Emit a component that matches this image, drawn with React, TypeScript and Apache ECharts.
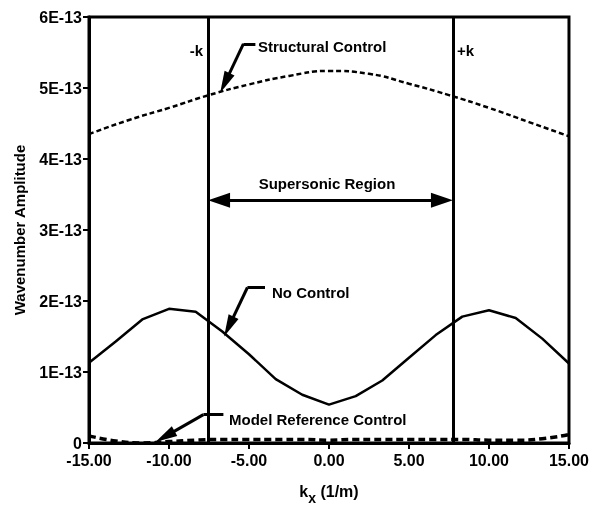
import React, { useEffect, useRef } from "react";
import * as echarts from "echarts";

const E = 1e-13;
const yTicks = [0, 1, 2, 3, 4, 5, 6];
const xTickLabels = ["-15.00", "-10.00", "-5.00", "0.00", "5.00", "10.00", "15.00"];

const kStructural = [-15, -12.5, -10, -7.5, -5, -2.5, 0, 2.5, 5, 7.5, 10, 12.5, 15];
const structuralControl = [4.35, 4.55, 4.72, 4.9, 5.05, 5.17, 5.24, 5.2, 5.06, 4.9, 4.72, 4.52, 4.32];

const kGrid = [-15, -13.33, -11.67, -10, -8.33, -6.67, -5, -3.33, -1.67, 0, 1.67, 3.33, 5, 6.67, 8.33, 10, 11.67, 13.33, 15];
const noControl = [1.13, 1.43, 1.74, 1.89, 1.85, 1.57, 1.25, 0.9, 0.68, 0.54, 0.66, 0.88, 1.2, 1.52, 1.78, 1.87, 1.76, 1.47, 1.12];
const modelReference = [0.1, 0.03, 0.0, 0.02, 0.04, 0.05, 0.05, 0.05, 0.05, 0.04, 0.05, 0.05, 0.05, 0.05, 0.05, 0.04, 0.04, 0.06, 0.12];

const kMinus = -7.56;
const kPlus = 7.75;
const supersonicY = 3.42;
const supersonicHeadHalf = 0.69; // half arrow-head length, in k units

// leader arrows: [start(text side), elbow, arrow-head centre] in data coords (k, amplitude in E-13)
const leaders = [
  [[-4.6, 5.62], [-5.35, 5.62], [-6.51, 5.07]],
  [[-4.0, 2.19], [-5.1, 2.19], [-6.26, 1.64]],
  [[-6.6, 0.4], [-7.85, 0.4], [-10.25, 0.09]],
];

const FONT = "'Liberation Sans', Arial, Helvetica, sans-serif";

export default function App() {
  const ref = useRef<HTMLDivElement>(null);
  useEffect(() => {
    if (!ref.current) return;
    const chart = echarts.init(ref.current, undefined, { renderer: "svg" });
    const pair = (xs: number[], ys: number[]) => xs.map((x, i) => [x, ys[i] * E]);
    const leaderLines: any[] = [];
    leaders.forEach((l) => {
      leaderLines.push([
        { coord: [l[0][0], l[0][1] * E], symbol: "none" },
        { coord: [l[1][0], l[1][1] * E], symbol: "none" },
      ]);
      leaderLines.push([
        { coord: [l[1][0], l[1][1] * E], symbol: "none" },
        { coord: [l[2][0], l[2][1] * E], symbol: "triangle", symbolSize: [11, 22] },
      ]);
    });
    const textStyle = { fontFamily: FONT, fontWeight: "bold", fontSize: 15, fill: "#000" };
    chart.setOption({
      animation: false,
      grid: { left: 89, right: 23, top: 17, bottom: 63, show: true, borderColor: "#000", borderWidth: 3, backgroundColor: "transparent" },
      xAxis: {
        type: "value",
        min: -15,
        max: 15,
        interval: 5,
        axisLine: { show: true, onZero: false, lineStyle: { color: "#000", width: 3 } },
        axisTick: { show: true, length: 6, lineStyle: { color: "#000", width: 2 } },
        splitLine: { show: false },
        axisLabel: {
          color: "#000",
          fontFamily: FONT,
          fontWeight: "bold",
          fontSize: 16,
          margin: 9,
          formatter: (v: number) => xTickLabels[Math.round((v + 15) / 5)] ?? "",
        },
        name: "{k|k}{x|x}{u| (1/m)}",
        nameLocation: "middle",
        nameGap: 34,
        nameTextStyle: {
          rich: {
            k: { fontFamily: FONT, fontWeight: "bold", fontSize: 16, color: "#000" },
            x: { fontFamily: FONT, fontWeight: "bold", fontSize: 14, color: "#000", padding: [14, 0, 0, 0] },
            u: { fontFamily: FONT, fontWeight: "bold", fontSize: 16, color: "#000" },
          },
        },
      },
      yAxis: {
        type: "value",
        min: 0,
        max: 6 * E,
        interval: E,
        axisLine: { show: true, onZero: false, lineStyle: { color: "#000", width: 3 } },
        axisTick: { show: true, length: 6, lineStyle: { color: "#000", width: 2 } },
        splitLine: { show: false },
        axisLabel: {
          color: "#000",
          fontFamily: FONT,
          fontWeight: "bold",
          fontSize: 16,
          margin: 7,
          formatter: (v: number) => {
            const n = Math.round(v / E);
            return yTicks.includes(n) ? (n === 0 ? "0" : `${n}E-13`) : "";
          },
        },
        name: "Wavenumber Amplitude",
        nameLocation: "middle",
        nameGap: 62,
        nameTextStyle: { color: "#000", fontFamily: FONT, fontWeight: "bold", fontSize: 15 },
      },
      series: [
        {
          name: "Structural Control",
          type: "line",
          data: pair(kStructural, structuralControl),
          smooth: true,
          symbol: "none",
          lineStyle: { color: "#000", width: 2.5, type: [5, 3] },
        },
        {
          name: "No Control",
          type: "line",
          data: pair(kGrid, noControl),
          symbol: "none",
          lineStyle: { color: "#000", width: 2.5 },
          markLine: {
            silent: true,
            symbol: "none",
            label: { show: false },
            lineStyle: { color: "#000", width: 3, type: "solid" },
            data: [
              { xAxis: kMinus },
              { xAxis: kPlus },
              [
                { coord: [kMinus + supersonicHeadHalf, supersonicY * E], symbol: "triangle", symbolSize: [15, 22] },
                { coord: [kPlus - supersonicHeadHalf, supersonicY * E], symbol: "triangle", symbolSize: [15, 22] },
              ],
              ...leaderLines,
            ],
          },
        },
        {
          name: "Model Reference Control",
          type: "line",
          data: pair(kGrid, modelReference),
          smooth: true,
          symbol: "none",
          lineStyle: { color: "#000", width: 3.5, type: [7, 4] },
        },
      ],
      graphic: [
        { type: "text", x: 203, y: 50, style: { ...textStyle, text: "-k", align: "right", verticalAlign: "middle" } },
        { type: "text", x: 457, y: 50, style: { ...textStyle, text: "+k", align: "left", verticalAlign: "middle" } },
        { type: "text", x: 258, y: 46, style: { ...textStyle, text: "Structural Control", align: "left", verticalAlign: "middle" } },
        { type: "text", x: 327, y: 183, style: { ...textStyle, text: "Supersonic Region", align: "center", verticalAlign: "middle" } },
        { type: "text", x: 272, y: 292, style: { ...textStyle, text: "No Control", align: "left", verticalAlign: "middle" } },
        { type: "text", x: 229, y: 419, style: { ...textStyle, text: "Model Reference Control", align: "left", verticalAlign: "middle" } },
      ],
    });
    return () => chart.dispose();
  }, []);
  return <div ref={ref} style={{ position: "fixed", left: 0, top: 0, width: 592, height: 510 }} />;
}
